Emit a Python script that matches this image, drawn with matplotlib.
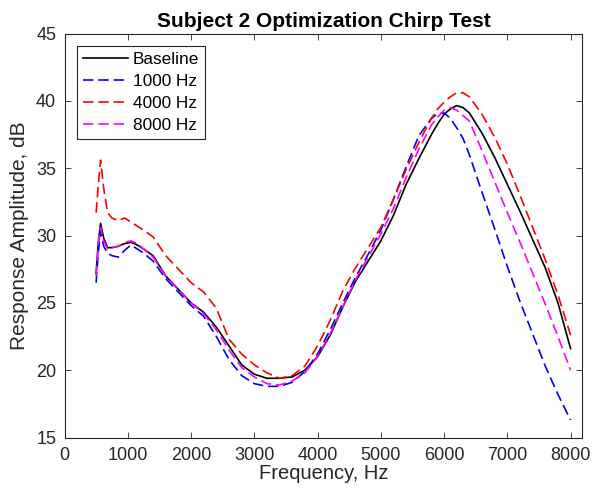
import matplotlib
matplotlib.use("Agg")
import matplotlib.pyplot as plt

plt.rcParams['font.family'] = ['Liberation Sans', 'DejaVu Sans']
plt.rcParams['lines.scale_dashes'] = False

freq = [500, 535, 570, 620, 680, 750, 850, 950, 1050, 1150, 1250, 1400, 1600, 1800,
        2000, 2200, 2400, 2600, 2800, 3000, 3200, 3400, 3600, 3800, 4000, 4200, 4400,
        4600, 4800, 5000, 5200, 5400, 5600, 5800, 5900, 6000, 6100, 6200, 6300, 6400,
        6600, 6800, 7000, 7200, 7400, 7600, 7800, 8000]

baseline = [27.2, 29.5, 30.9, 29.8, 29.1, 29.1, 29.2, 29.4, 29.5, 29.3, 29.0, 28.5, 27.0, 26.0,
            25.0, 24.3, 23.2, 21.8, 20.4, 19.7, 19.4, 19.4, 19.5, 20.0, 21.0, 22.6, 24.7,
            26.6, 28.1, 29.6, 31.5, 33.8, 35.7, 37.5, 38.3, 39.0, 39.4, 39.65, 39.5, 39.1,
            37.6, 35.8, 33.8, 31.8, 29.7, 27.6, 25.0, 21.6]

hz1000 = [26.5, 28.8, 30.3, 29.2, 28.7, 28.5, 28.4, 28.9, 29.3, 29.0, 28.7, 28.1, 26.8, 25.8,
          24.8, 24.0, 22.5, 20.8, 19.6, 19.0, 18.8, 18.8, 19.1, 19.9, 21.2, 23.0, 25.0,
          26.9, 28.6, 30.4, 32.7, 35.1, 37.4, 38.7, 39.05, 39.1, 38.7, 38.0, 37.2, 36.0,
          33.2, 30.5, 27.7, 25.1, 22.7, 20.3, 18.2, 16.3]

hz4000 = [31.7, 33.8, 35.6, 33.5, 31.7, 31.3, 31.1, 31.3, 31.0, 30.7, 30.4, 29.9, 28.5, 27.5,
          26.5, 25.8, 24.6, 22.3, 21.2, 20.4, 19.8, 19.4, 19.6, 20.3, 21.8, 23.7, 25.9,
          27.6, 29.1, 30.6, 32.7, 34.9, 36.9, 38.7, 39.4, 39.9, 40.3, 40.6, 40.6, 40.3,
          39.0, 37.3, 35.3, 33.0, 30.6, 28.2, 25.6, 22.6]

hz8000 = [27.0, 29.5, 30.6, 29.6, 29.0, 29.1, 29.2, 29.5, 29.6, 29.4, 29.0, 28.4, 27.0, 26.0,
          25.0, 24.2, 23.0, 21.5, 20.2, 19.5, 19.0, 18.9, 19.2, 19.8, 21.0, 22.7, 24.7,
          26.7, 28.4, 30.1, 32.0, 34.3, 36.4, 38.2, 38.8, 39.3, 39.5, 39.3, 38.9, 38.5,
          36.3, 34.0, 31.7, 29.5, 27.2, 24.9, 22.5, 20.0]

labels = ['Baseline', '1000 Hz', '4000 Hz', '8000 Hz']
xticks = [0, 1000, 2000, 3000, 4000, 5000, 6000, 7000, 8000]
yticks = [15, 20, 25, 30, 35, 40, 45]

fig = plt.figure(figsize=(5.94, 5.01), dpi=100)
ax = fig.add_axes([0.1086, 0.1267, 0.8717, 0.8064])

dash = (0, (7.5, 3.5))
lw = 1.2
ax.plot(freq, baseline, color='black', lw=lw, label=labels[0])
ax.plot(freq, hz1000, color='#0000ff', lw=lw, ls=dash, label=labels[1])
ax.plot(freq, hz4000, color='#ff0000', lw=lw, ls=dash, label=labels[2])
ax.plot(freq, hz8000, color='#ff00ff', lw=lw, ls=dash, label=labels[3])

ax.set_xlim(0, 8185)
ax.set_ylim(15, 45)
ax.set_xticks(xticks)
ax.set_yticks(yticks)
ax.tick_params(direction='in', top=True, right=True, length=4, width=0.6,
               colors='#262626', labelsize=13)
ax.tick_params(axis='x', pad=7)
ax.tick_params(axis='y', pad=6)
for s in ax.spines.values():
    s.set_color('#262626')
    s.set_linewidth(0.8)

ax.set_xlabel('Frequency, Hz', fontsize=14.5, color='#262626', labelpad=0)
ax.set_ylabel('Response Amplitude, dB', fontsize=15, color='#262626', labelpad=5)
ax.set_title('Subject 2 Optimization Chirp Test', fontsize=15, fontweight='bold',
             color='black', pad=5)

leg = ax.legend(loc='upper left', fontsize=12.4, handlelength=2.6, handletextpad=0.3,
                borderpad=0.35, labelspacing=0.4, fancybox=False, framealpha=1,
                edgecolor='#262626', borderaxespad=0.73)
leg.get_frame().set_linewidth(0.8)

fig.savefig('out.png', dpi=100)
